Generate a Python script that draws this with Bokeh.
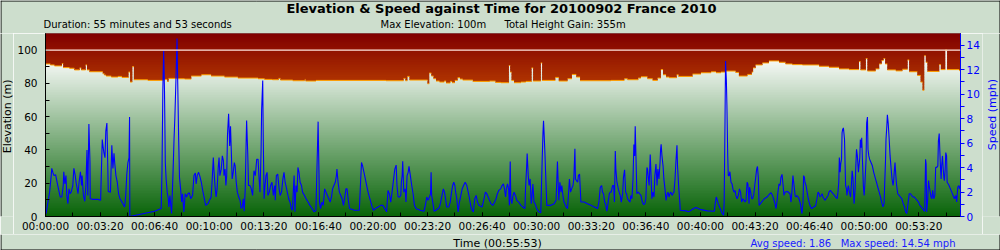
import numpy as np
from bokeh.plotting import figure
from bokeh.layouts import column, row
from bokeh.models import (Range1d, LinearAxis, FixedTicker,
                          CustomJSTickFormatter, Span)
from bokeh.core.properties import value
from bokeh.embed import file_html
from bokeh.resources import INLINE

# ---------------- texts ----------------
title_text = "Elevation & Speed against Time for 20100902 France 2010"
duration_text = "Duration: 55 minutes and 53 seconds"
max_elev_text = "Max Elevation: 100m"
gain_text = "Total Height Gain: 355m"
time_axis_text = "Time (00:55:53)"
avg_speed_text = "Avg speed: 1.86"
max_speed_text = "Max speed: 14.54 mph"
elev_axis_text = "Elevation (m)"
speed_axis_text = "Speed (mph)"

# ---------------- data ----------------
total_seconds = 3353
time_tick_labels_s = list(range(0, 3353, 200))
time_minor_s = list(range(0, 3353, 100))
elev_ticks = [0, 20, 40, 60, 80, 100]
elev_minor = [10, 30, 50, 70, 90]
speed_ticks = [0, 2, 4, 6, 8, 10, 12, 14]
speed_minor = [1, 3, 5, 7, 9, 11, 13]

elev_time_s = [0, 18, 33, 60, 65, 88, 106, 125, 131, 147,
               152, 161, 210, 216, 222, 241, 265, 280, 304, 310,
               318, 324, 375, 436, 446, 451, 485, 510, 534, 571,
               607, 656, 705, 779, 803, 832, 854, 861, 906, 950,
               953, 991, 1248, 1312, 1319, 1326, 1334, 1400, 1406, 1414,
               1422, 1431, 1444, 1461, 1468, 1483, 1490, 1500, 1510, 1519,
               1529, 1566, 1627, 1649, 1669, 1698, 1703, 1708, 1717, 1742,
               1760, 1781, 1787, 1815, 1820, 1868, 1881, 1913, 1929, 1945,
               1959, 2072, 2121, 2133, 2172, 2182, 2206, 2225, 2243, 2255,
               2263, 2274, 2286, 2313, 2320, 2371, 2402, 2439, 2457, 2475,
               2490, 2529, 2541, 2572, 2588, 2593, 2602, 2627, 2651, 2688,
               2712, 2737, 2774, 2835, 2871, 2908, 2945, 2981, 2987, 3006,
               3012, 3042, 3055, 3064, 3071, 3077, 3085, 3116, 3140, 3159,
               3165, 3195, 3207, 3214, 3220, 3226, 3232, 3275, 3281, 3297,
               3304, 3348]
elev_m = [91.7, 91.1, 90.5, 91.9, 89.5, 89.1, 88.1, 89.3, 88.1, 91.1,
          88.1, 87.0, 85.8, 85.0, 84.4, 83.8, 84.2, 83.6, 86.8, 80.8,
          90.1, 82.2, 81.8, 82.4, 81.2, 83.0, 82.8, 82.6, 84.4, 85.2,
          84.4, 83.8, 83.2, 82.8, 82.4, 82.2, 83.0, 82.0, 81.6, 82.4,
          81.4, 81.8, 81.6, 83.0, 81.6, 84.2, 82.0, 79.8, 86.2, 84.4,
          82.8, 81.4, 80.8, 81.4, 80.2, 81.2, 80.4, 81.8, 83.4, 82.6,
          82.0, 81.2, 81.4, 80.6, 80.4, 90.7, 86.8, 81.8, 80.4, 80.8,
          81.2, 89.3, 81.4, 92.3, 81.8, 83.6, 81.4, 82.8, 85.4, 83.8,
          81.6, 81.8, 82.8, 82.2, 83.2, 84.0, 82.8, 81.8, 83.2, 88.3,
          85.2, 83.8, 83.4, 85.2, 84.2, 85.6, 86.4, 87.0, 86.4, 86.8,
          87.4, 86.6, 84.4, 85.4, 86.8, 89.3, 91.1, 92.3, 93.5, 92.7,
          91.7, 91.3, 91.1, 90.3, 89.7, 88.7, 88.3, 93.1, 88.1, 94.9,
          87.4, 88.7, 91.7, 93.7, 94.9, 91.7, 88.1, 87.5, 88.5, 94.1,
          87.0, 84.8, 80.8, 75.9, 96.6, 92.7, 87.2, 91.3, 88.3, 100.0,
          88.3, 87.7]

speed_time_s = [
    2, 9, 15, 21, 23, 27, 31, 37, 40, 45,
    50, 54, 60, 65, 67, 71, 75, 78, 82, 86,
    90, 94, 100, 104, 109, 112, 119, 123, 128, 132,
    134, 139, 144, 148, 152, 155, 159, 163, 164, 174,
    192, 202, 205, 208, 211, 214, 218, 221, 225, 227,
    230, 238, 243, 247, 251, 254, 258, 263, 268, 273,
    280, 290, 294, 298, 302, 306, 308, 309, 400, 424,
    427, 430, 433, 436, 439, 442, 446, 450, 452, 456,
    458, 462, 467, 471, 474, 478, 482, 484, 488, 491,
    495, 499, 502, 507, 512, 517, 522, 527, 532, 539,
    544, 549, 552, 556, 561, 565, 571, 576, 581, 587,
    595, 601, 607, 611, 615, 617, 621, 625, 629, 633,
    636, 639, 644, 648, 652, 654, 658, 661, 664, 667,
    671, 675, 678, 681, 684, 688, 692, 695, 699, 703,
    708, 713, 717, 721, 725, 728, 732, 735, 737, 741,
    744, 749, 754, 759, 764, 769, 774, 779, 782, 786,
    790, 792, 796, 798, 801, 804, 808, 812, 815, 820,
    825, 830, 835, 840,
    842, 846, 851, 856, 860, 865, 870, 874, 878, 881,
    886, 891, 896, 901, 905, 908, 911, 914, 918, 922,
    925, 929, 933, 938, 942, 949, 955, 962, 969, 977,
    984, 991, 995, 999, 1001, 1004, 1008, 1013, 1018, 1023,
    1028, 1033, 1038, 1043, 1048, 1052, 1057, 1062, 1066, 1068,
    1072, 1077, 1082, 1087, 1092, 1096, 1101, 1105, 1109, 1114,
    1132, 1150, 1154, 1158, 1162, 1167, 1172, 1177, 1182, 1187,
    1192, 1197, 1202, 1209, 1219, 1228, 1236, 1243, 1250, 1255,
    1260, 1265, 1270, 1275, 1280, 1285, 1288, 1292, 1297, 1302,
    1304, 1307, 1309, 1313, 1318, 1321, 1325, 1329, 1332, 1337,
    1342, 1347, 1352, 1358, 1373, 1387, 1392, 1397, 1402, 1407,
    1411, 1413, 1415, 1419, 1424, 1431, 1439, 1444, 1448, 1453,
    1458, 1462, 1466, 1470, 1478, 1483, 1488, 1492, 1496, 1500,
    1503, 1507, 1512, 1517, 1522, 1527, 1532, 1538, 1544, 1549,
    1554, 1558, 1563, 1568, 1573, 1578, 1583, 1588, 1600, 1607,
    1612, 1617, 1622, 1627, 1632, 1639, 1646, 1651, 1656, 1661,
    1668,
    1673, 1678, 1682, 1686, 1689, 1693, 1697, 1700, 1703, 1705,
    1709, 1712, 1717, 1722, 1727, 1734, 1742, 1749, 1757, 1759,
    1763, 1765, 1769, 1772, 1776, 1780, 1783, 1786, 1790, 1794,
    1800, 1807, 1815, 1820, 1823, 1825, 1827, 1830, 1833, 1837,
    1852, 1864, 1871, 1876, 1879, 1881, 1885, 1889, 1892, 1896,
    1900, 1903, 1908, 1913, 1917, 1920, 1924, 1928, 1933, 1936,
    1940, 1942, 1946, 1950, 1953, 1957, 1962, 1974, 1986, 1999,
    2011, 2023, 2028, 2033, 2038, 2041, 2045, 2049, 2052, 2057,
    2062, 2066, 2069, 2073, 2078, 2082, 2085, 2088, 2090, 2094,
    2099, 2102, 2106, 2110, 2115, 2118, 2122, 2126, 2129, 2133,
    2137, 2142, 2145, 2149, 2153, 2156, 2159, 2161, 2164, 2167,
    2172, 2177, 2182, 2187, 2192, 2196, 2200, 2204, 2206, 2210,
    2212, 2216, 2219, 2222, 2226, 2230, 2233, 2237, 2241, 2244,
    2248, 2252, 2254, 2256, 2259, 2263, 2266, 2270, 2274, 2277,
    2281, 2285, 2288, 2292, 2296, 2299, 2303, 2307, 2310, 2314,
    2316, 2320, 2324, 2326, 2347, 2357, 2375, 2384, 2402, 2426,
    2451, 2454, 2458, 2462, 2465, 2470, 2475, 2480, 2485, 2487,
    2490, 2492, 2495, 2497, 2500, 2502,
    2505, 2508, 2512, 2516, 2519, 2523, 2527, 2530, 2534, 2539,
    2543, 2547, 2551, 2555, 2560, 2563, 2567, 2571, 2574, 2578,
    2580, 2584, 2588, 2591, 2595, 2599, 2602, 2606, 2609, 2612,
    2615, 2624, 2634, 2644, 2654, 2659, 2664, 2668, 2673, 2677,
    2681, 2684, 2688, 2692, 2695, 2699, 2703, 2706, 2710, 2719,
    2728, 2732, 2736, 2739, 2743, 2747, 2750, 2754, 2758, 2761,
    2765, 2769, 2772, 2776, 2778, 2781, 2783, 2787, 2791, 2794,
    2798, 2803, 2808, 2815, 2822, 2827, 2831, 2835, 2838, 2842,
    2846, 2849, 2853, 2857, 2860, 2864, 2868, 2871, 2876, 2881,
    2886, 2891, 2896, 2901, 2904, 2907, 2909, 2912, 2914, 2917,
    2919, 2921, 2924, 2928, 2930, 2932, 2935, 2937, 2940, 2942,
    2946, 2950, 2953, 2956, 2959, 2963, 2967, 2969, 2972, 2975,
    2979, 2981, 2984, 2986, 2989, 2991, 2994, 2997, 3000, 3003,
    3007, 3009, 3012, 3014, 3017, 3020, 3025, 3030, 3035, 3040,
    3045, 3050, 3055, 3060, 3064, 3069, 3073, 3075, 3078, 3080,
    3083, 3085, 3088, 3091, 3095, 3099, 3102, 3106, 3108, 3111,
    3113, 3116, 3119, 3123, 3128, 3133, 3138, 3143, 3148, 3152,
    3156, 3160, 3165, 3170, 3174, 3179, 3184, 3189, 3194, 3199,
    3204, 3209, 3214, 3218, 3222, 3225, 3227, 3229, 3233, 3236,
    3238, 3242, 3245, 3248, 3251, 3255, 3259, 3262, 3266, 3270,
    3272, 3275, 3277, 3280, 3282, 3284, 3287, 3289, 3292, 3294,
    3297, 3299, 3302, 3304, 3308, 3311, 3316, 3321, 3326, 3331,
    3336, 3339, 3343, 3347, 3350, 3353]
speed_mph = [
    0.24, 1.18, 1.99, 3.34, 3.93, 3.60, 3.34, 3.42, 3.07, 2.53,
    1.99, 1.59, 1.59, 2.53, 3.66, 2.66, 3.34, 1.72, 1.05, 2.26,
    1.86, 1.99, 2.53, 3.93, 3.34, 2.80, 1.86, 2.80, 3.66, 2.53,
    3.34, 1.72, 1.24, 2.53, 5.43, 1.72, 7.56, 4.46, 1.45, 1.40,
    1.40, 1.32, 3.87, 6.29, 5.70, 5.22, 4.81, 6.97, 7.64, 5.49,
    2.04, 1.99, 5.81, 3.93, 5.16, 4.28, 3.34, 2.80, 1.83, 1.45,
    1.18, 0.78, 1.72, 3.47, 4.41, 4.79, 8.12, 0.00, 0.43, 0.65,
    3.87, 10.33, 13.56, 10.33, 4.41, 3.07, 1.99, 1.45, 0.78, 1.72,
    1.18, 0.24, 3.34, 6.29, 8.04, 11.14, 14.54, 11.67, 6.29, 3.20,
    2.26, 1.18, 1.86, 0.38, 1.86, 1.59, 1.86, 1.94, 1.45, 1.72,
    3.34, 3.55, 2.66, 3.34, 3.61, 3.34, 2.80, 2.13, 1.59, 0.91,
    1.05, 1.32, 1.59, 3.07, 4.81, 3.87, 2.53, 1.59, 2.26, 4.01,
    4.81, 3.34, 3.87, 4.95, 4.55, 3.34, 3.87, 2.53, 3.34, 6.70,
    8.39, 5.76, 7.37, 5.22, 3.07, 3.61, 4.41, 4.14, 2.80, 1.99,
    1.59, 1.32, 0.65, 0.78, 1.45, 0.43, 2.26, 5.76, 7.85, 5.22,
    2.53, 2.53, 2.26, 1.72, 3.74, 3.34, 4.68, 4.68, 3.34, 1.99,
    5.35, 8.72, 11.11, 6.29, 1.45, 2.39, 3.34, 3.61, 1.72, 1.99,
    2.53, 2.80, 1.72, 2.53,
    1.32, 3.34, 3.47, 2.26, 1.72, 1.99, 3.07, 3.61, 2.80, 2.53,
    1.99, 1.45, 1.18, 0.65, 0.51, 1.99, 3.34, 0.38, 2.53, 1.99,
    4.01, 3.61, 2.80, 2.53, 1.99, 1.72, 1.45, 1.18, 0.91, 0.65,
    0.38, 0.51, 4.14, 7.75, 4.95, 1.18, 0.65, 1.18, 0.91, 2.26,
    1.99, 1.72, 1.45, 1.18, 1.59, 2.26, 2.53, 2.80, 3.34, 3.87,
    2.80, 1.99, 1.72, 1.45, 0.91, 1.45, 2.26, 2.26, 1.45, 0.65,
    0.51, 0.51, 2.53, 4.41, 4.14, 3.61, 3.07, 2.53, 1.99, 1.59,
    1.18, 0.78, 0.51, 0.65, 0.78, 0.91, 0.91, 0.65, 0.38, 2.13,
    1.86, 1.18, 1.99, 2.93, 3.87, 4.20, 2.53, 1.59, 1.59, 1.72,
    2.80, 3.34, 4.52, 1.99, 2.26, 1.18, 3.34, 3.61, 4.09, 3.34,
    2.53, 1.86, 0.91, 0.65, 0.51, 0.43, 0.91, 1.59, 1.32, 1.59,
    1.86, 3.61, 1.72, 1.18, 0.43, 0.51, 0.65, 0.78, 1.18, 1.72,
    2.26, 1.99, 1.45, 0.78, 0.78, 1.18, 1.99, 2.53, 2.80, 2.53,
    1.99, 1.45, 0.38, 1.18, 1.72, 2.26, 2.53, 2.80, 2.53, 1.99,
    1.45, 0.91, 0.51, 0.38, 1.45, 1.72, 1.18, 0.91, 0.78, 1.45,
    1.99, 1.86, 1.59, 1.32, 1.05, 0.91, 1.18, 1.45, 1.86, 2.13,
    2.26,
    2.53, 2.66, 2.26, 1.59, 2.26, 2.66, 2.26, 0.91, 4.49, 1.45,
    1.05, 1.59, 1.99, 1.72, 1.32, 1.18, 0.91, 0.78, 0.65, 2.26,
    4.01, 5.14, 3.34, 2.53, 3.07, 1.05, 1.72, 2.66, 1.18, 1.05,
    0.65, 0.38, 0.30, 4.55, 6.83, 7.83, 6.83, 5.22, 3.34, 0.91,
    0.91, 1.05, 1.32, 4.49, 2.53, 1.32, 2.80, 1.99, 2.53, 1.72,
    1.18, 1.05, 0.78, 0.65, 1.99, 3.07, 1.99, 2.26, 2.53, 3.07,
    5.54, 3.07, 2.93, 2.80, 3.34, 3.47, 1.18, 1.18, 1.05, 0.91,
    0.78, 0.65, 1.18, 2.39, 2.53, 1.99, 1.86, 1.18, 1.05, 0.43,
    1.18, 1.86, 1.99, 1.99, 2.53, 2.53, 1.18, 5.35, 3.87, 2.80,
    2.26, 1.99, 1.72, 1.18, 1.86, 3.20, 3.82, 1.99, 1.86, 1.45,
    1.32, 1.18, 1.72, 1.45, 3.07, 5.89, 4.95, 7.37, 4.68, 1.86,
    1.99, 1.86, 1.72, 1.18, 0.97, 1.05, 1.45, 4.01, 3.87, 2.93,
    2.53, 5.06, 3.34, 1.45, 1.99, 1.59, 3.34, 4.28, 2.53, 3.87,
    3.07, 4.41, 5.49, 5.89, 4.95, 4.14, 3.07, 2.26, 1.32, 1.72,
    1.99, 1.59, 1.86, 1.99, 1.72, 1.86, 1.99, 3.07, 4.41, 5.81,
    4.14, 2.53, 1.32, 0.51, 0.46, 0.38, 0.65, 0.73, 0.56, 0.46,
    0.43, 1.05, 1.59, 1.32, 1.05, 0.78, 0.51, 0.24, 0.11, 1.18,
    7.64, 12.70, 11.14, 9.12, 4.95, 3.34,
    3.34, 3.66, 2.80, 2.66, 2.26, 1.99, 2.13, 1.72, 1.45, 1.72,
    2.26, 1.99, 1.18, 1.45, 1.32, 1.18, 1.32, 2.80, 2.66, 1.05,
    2.39, 1.99, 1.45, 1.45, 1.72, 2.53, 3.07, 3.87, 4.09, 3.20,
    0.91, 1.18, 1.45, 1.59, 1.86, 1.94, 1.72, 1.45, 1.05, 0.65,
    1.32, 1.99, 2.66, 2.53, 3.20, 3.44, 2.53, 1.72, 1.99, 2.04,
    1.86, 1.18, 2.26, 3.34, 2.53, 1.72, 1.59, 1.72, 1.59, 1.45,
    1.18, 0.65, 0.24, 1.18, 3.34, 3.20, 2.80, 2.53, 1.99, 1.59,
    1.18, 0.78, 0.65, 0.78, 0.86, 1.45, 1.99, 1.86, 1.59, 1.72,
    1.86, 1.59, 1.45, 1.32, 1.45, 1.59, 1.72, 1.99, 2.13, 1.99,
    1.86, 1.72, 1.59, 1.45, 1.99, 2.80, 4.81, 3.61, 4.28, 4.68,
    6.83, 7.10, 7.24, 6.29, 4.28, 2.53, 2.26, 1.72, 2.26, 2.53,
    1.99, 1.59, 2.53, 3.74, 3.07, 1.05, 2.26, 3.87, 5.49, 4.95,
    3.61, 4.14, 4.81, 6.29, 5.62, 6.43, 4.41, 2.53, 1.72, 2.80,
    4.68, 7.64, 8.12, 5.49, 4.95, 4.68, 4.41, 4.14, 3.61, 3.20,
    2.80, 2.39, 1.99, 1.59, 1.18, 0.78, 1.05, 2.53, 4.41, 6.29,
    7.37, 8.31, 7.64, 6.56, 4.95, 3.87, 3.07, 2.53, 2.93, 3.87,
    4.41, 3.34, 2.53, 1.86, 1.72, 1.59, 1.45, 1.05, 0.78, 0.38,
    0.24, 0.91, 1.86, 1.86, 1.72, 1.59, 1.59, 1.45, 1.32, 1.18,
    0.91, 0.78, 0.65, 0.51, 0.43, 4.68, 4.28, 0.38, 1.45, 2.93,
    2.53, 1.99, 1.59, 1.45, 2.13, 1.45, 1.72, 4.01, 4.01, 4.14,
    6.16, 6.78, 5.49, 3.87, 3.07, 4.14, 4.95, 4.14, 3.20, 2.93,
    3.87, 5.22, 4.95, 2.80, 2.66, 2.53, 2.26, 1.99, 1.72, 1.45,
    1.72, 1.18, 2.39, 2.53, 2.26, 2.53]

# ---------------- style constants ----------------
BG = "#cddecd"
FONT = "DejaVu Sans"
ELEV_MAX = 110
SPEED_MAX = 14.95

TOP_H, BOTTOM_H = 33, 16
LEFT_W, RIGHT_W = 13, 18
MAIN_BL, MAIN_BR, MAIN_BB = 32, 22, 16
FRAME_W, FRAME_H = 915, 185
MAIN_W = MAIN_BL + FRAME_W + MAIN_BR
MAIN_H = FRAME_H + MAIN_BB


def text_panel(w, h):
    f = figure(width=w, height=h, output_backend="svg", toolbar_location=None,
               x_range=Range1d(0, w), y_range=Range1d(0, h),
               x_axis_location=None, y_axis_location=None,
               min_border=0, min_border_left=0, min_border_right=0,
               min_border_top=0, min_border_bottom=0)
    f.background_fill_color = BG
    f.border_fill_color = BG
    f.outline_line_color = None
    f.grid.visible = False
    return f


def put_text(f, x, y, text, size, align="left", color="black", style="normal", angle=0.0):
    f.text(x=[x], y=[y], text=[text], text_font=value(FONT), text_font_size=value(size),
           text_font_style=style, text_color=color, text_align=align,
           text_baseline="middle", angle=angle)


def edge(f, x0, y0, x1, y1):
    f.segment(x0=[x0], y0=[y0], x1=[x1], y1=[y1], line_color="black", line_width=1)


# ---------------- main chart ----------------
p = figure(width=MAIN_W, height=MAIN_H, output_backend="svg", toolbar_location=None,
           x_range=Range1d(0, total_seconds), y_range=Range1d(0, ELEV_MAX),
           min_border=0, min_border_left=MAIN_BL, min_border_right=MAIN_BR,
           min_border_top=0, min_border_bottom=MAIN_BB)
p.extra_y_ranges = {"speed": Range1d(0, SPEED_MAX)}
p.border_fill_color = BG
p.background_fill_color = "#0a640a"
p.outline_line_color = "black"
p.outline_line_width = 1
p.xgrid.visible = False
p.ygrid.visible = False


def lerp(c0, c1, f):
    f = min(max(f, 0.0), 1.0)
    return "#%02x%02x%02x" % tuple(int(round(a + (b - a) * f)) for a, b in zip(c0, c1))


# green gradient background (visible under the elevation profile)
band_lo = np.arange(0, ELEV_MAX, 1.0)
green_cols = [lerp((8, 100, 8), (242, 246, 242), (lo + 0.5) / 92.0) for lo in band_lo]
p.quad(left=0, right=total_seconds, bottom=band_lo, top=band_lo + 1.8,
       fill_color=green_cols, line_color=None)

# elevation step profile
et = np.array(elev_time_s + [total_seconds], dtype=float)
xs = np.repeat(et, 2)[1:-1]
ys = np.repeat(np.array(elev_m, dtype=float), 2)

# red gradient above the profile
lo0 = int(np.floor(min(elev_m)))
for lo in range(lo0, ELEV_MAX):
    hi = lo + 1.8
    col = lerp((128, 0, 0), (190, 68, 0), (ELEV_MAX - (lo + 0.5)) / 38.0)
    p.varea(x=xs, y1=np.clip(ys, lo, hi), y2=np.full(len(xs), hi), fill_color=col)

# orange edge on the flat parts
p.segment(x0=elev_time_s, x1=elev_time_s[1:] + [total_seconds],
          y0=elev_m, y1=elev_m, line_color="#ffa000", line_width=1.0)

# max elevation line
p.add_layout(Span(location=max(elev_m), dimension="width",
                  line_color="#ffe6dc", line_width=1.2))

# speed
n = min(len(speed_time_s), len(speed_mph))
p.line(speed_time_s[:n], speed_mph[:n], y_range_name="speed",
       line_color="#0000ff", line_width=1.1)

# axes
xa = p.xaxis[0]
xa.ticker = FixedTicker(ticks=time_tick_labels_s, minor_ticks=time_minor_s)
xa.formatter = CustomJSTickFormatter(code="""
const t = Math.round(tick);
const pad = (n) => String(n).padStart(2, '0');
return pad(Math.floor(t / 3600)) + ':' + pad(Math.floor((t % 3600) / 60)) + ':' + pad(t % 60);
""")
xa.major_tick_in = 4
xa.major_tick_out = 0
xa.minor_tick_in = 4
xa.minor_tick_out = 0
xa.major_label_standoff = 3
xa.major_label_text_font = FONT
xa.major_label_text_font_size = "10.5px"
xa.major_label_text_color = "black"
xa.axis_line_color = "black"

ya = p.yaxis[0]
ya.ticker = FixedTicker(ticks=elev_ticks, minor_ticks=elev_minor)
ya.major_tick_in = 4
ya.major_tick_out = 0
ya.minor_tick_in = 4
ya.minor_tick_out = 0
ya.major_label_standoff = 8
ya.major_label_text_font = FONT
ya.major_label_text_font_size = "10.5px"
ya.major_label_text_color = "black"

ra = LinearAxis(y_range_name="speed",
                ticker=FixedTicker(ticks=speed_ticks, minor_ticks=speed_minor))
ra.major_tick_in = 0
ra.major_tick_out = 4
ra.minor_tick_in = 0
ra.minor_tick_out = 4
ra.major_label_standoff = 2
ra.axis_line_color = "#0000ff"
ra.major_tick_line_color = "#0000ff"
ra.minor_tick_line_color = "#0000ff"
ra.major_label_text_color = "#0000ff"
ra.major_label_text_font = FONT
ra.major_label_text_font_size = "10.5px"
p.add_layout(ra, "right")

# ---------------- text panels ----------------
top = text_panel(1000, TOP_H)
put_text(top, 501, TOP_H - 8, title_text, "13px", align="center", style="bold")
put_text(top, 43, TOP_H - 23.5, duration_text, "10px")
put_text(top, 380, TOP_H - 23.5, max_elev_text, "10px")
put_text(top, 504, TOP_H - 23.5, gain_text, "10px")
edge(top, 0, TOP_H - 0.5, 1000, TOP_H - 0.5)
edge(top, 0.5, 0, 0.5, TOP_H)
edge(top, 999.5, 0, 999.5, TOP_H)

left = text_panel(LEFT_W, MAIN_H)
put_text(left, 7, MAIN_H - (124 - TOP_H), elev_axis_text, "11px", align="center", angle=np.pi / 2)
edge(left, 0.5, 0, 0.5, MAIN_H)

right = text_panel(RIGHT_W, MAIN_H)
put_text(right, 992 - (1000 - RIGHT_W), MAIN_H - (122 - TOP_H), speed_axis_text, "11px",
         align="center", color="#0000ff", angle=np.pi / 2)
edge(right, RIGHT_W - 0.5, 0, RIGHT_W - 0.5, MAIN_H)

bottom = text_panel(1000, BOTTOM_H)
yb = BOTTOM_H - (243 - TOP_H - MAIN_H)
put_text(bottom, 497, yb, time_axis_text, "11px", align="center")
put_text(bottom, 750, yb, avg_speed_text, "10px", color="#1a1aff")
put_text(bottom, 955, yb, max_speed_text, "10px", align="right", color="#1a1aff")
edge(bottom, 0, 0.5, 1000, 0.5)
edge(bottom, 0.5, 0, 0.5, BOTTOM_H)
edge(bottom, 999.5, 0, 999.5, BOTTOM_H)

layout = column(top, row(left, p, right, spacing=0), bottom, spacing=0)

open("out.html", "w").write(file_html(layout, INLINE))
